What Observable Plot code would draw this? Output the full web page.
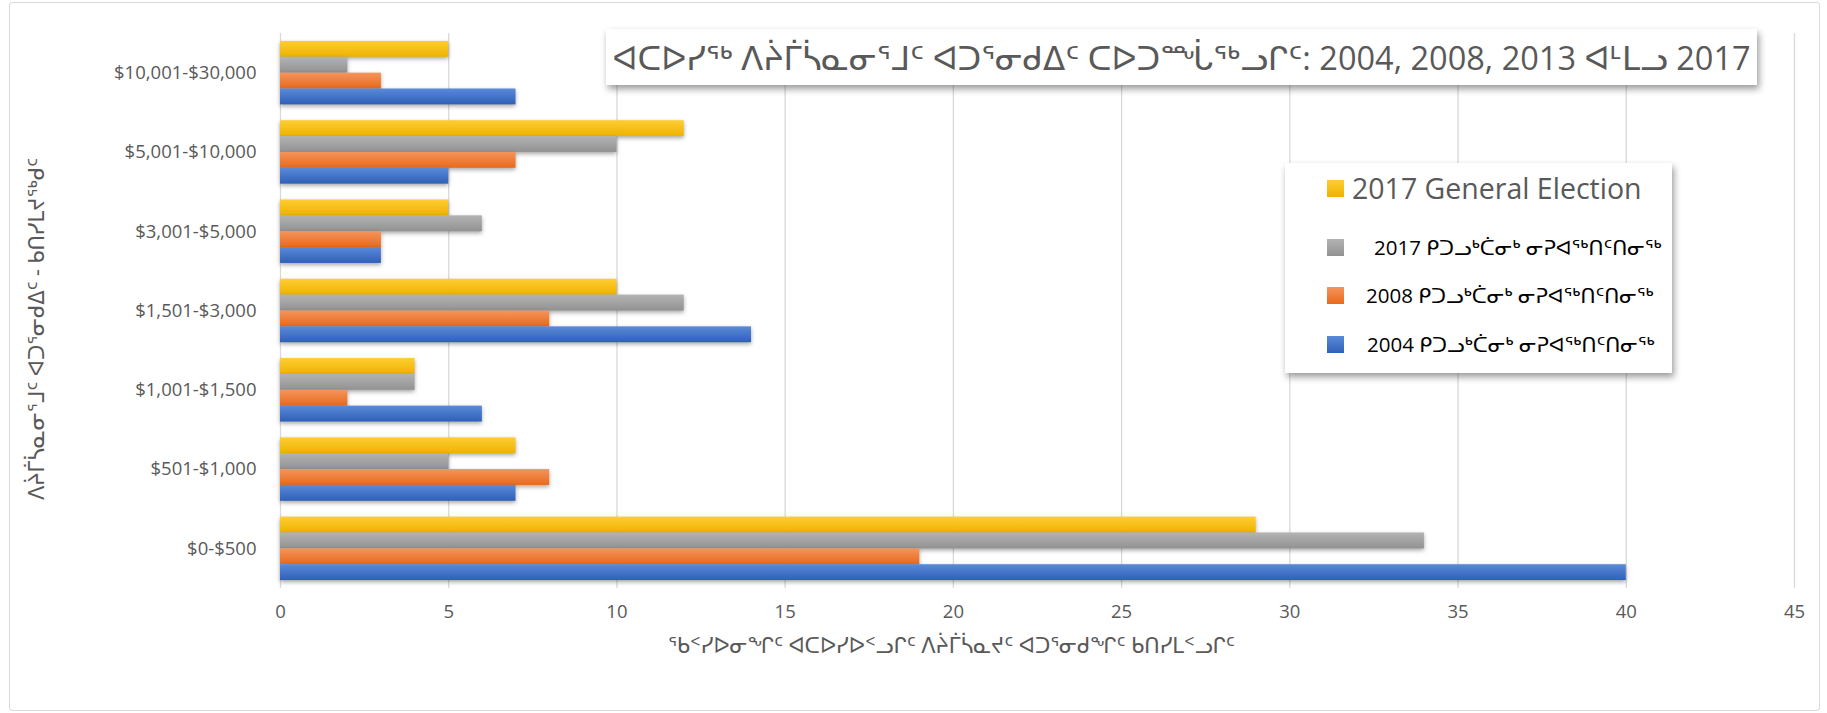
<!DOCTYPE html>
<html>
<head>
<meta charset="utf-8">
<script src="https://cdn.jsdelivr.net/npm/d3@7"></script>
<script src="https://cdn.jsdelivr.net/npm/@observablehq/plot@0.6"></script>
<style>
  body { margin: 0; background: #fff; }
  #wrap { position: relative; width: 1827px; height: 713px; font-family: "Open Sans", "DejaVu Sans", sans-serif; overflow: hidden; }
  #frame { position: absolute; left: 9px; top: 2px; width: 1809px; height: 707px; border: 1px solid #d9d9d9; border-radius: 3px; pointer-events: none; }
  #title { position: absolute; left: 606px; top: 29px; width: 1151px; height: 56px; background: #fff;
           box-shadow: 2px 4px 7px rgba(0,0,0,0.4); display: flex; align-items: center; justify-content: center;
           font-size: 32.5px; color: #595959; white-space: nowrap; }
  #legend { position: absolute; left: 1285px; top: 163px; width: 387px; height: 210px; background: #fff;
            box-shadow: 2px 4px 7px rgba(0,0,0,0.4); }
  .item { position: absolute; display: flex; align-items: center; white-space: nowrap; }
  .sw { display: inline-block; width: 17px; height: 17px; margin-right: 8px; }
  svg { display: block; }
</style>
</head>
<body>
<div id="wrap">
  <div id="chart"></div>
  <div id="title"></div>
  <div id="legend"></div>
  <div id="frame"></div>
</div>
<script>
// ---- data ----
const categories = ["$10,001-$30,000", "$5,001-$10,000", "$3,001-$5,000", "$1,501-$3,000", "$1,001-$1,500", "$501-$1,000", "$0-$500"];
const seriesNames = [
  "2017 General Election",
  "2017 ᑭᑐᓗᒃᑖᓂᒃ ᓂᕈᐊᖅᑎᑦᑎᓂᖅ",
  "2008 ᑭᑐᓗᒃᑖᓂᒃ ᓂᕈᐊᖅᑎᑦᑎᓂᖅ",
  "2004 ᑭᑐᓗᒃᑖᓂᒃ ᓂᕈᐊᖅᑎᑦᑎᓂᖅ"
];
const values2017General = [5, 12, 5, 10, 4, 7, 29];
const values2017 = [2, 10, 6, 12, 4, 5, 34];
const values2008 = [3, 7, 3, 8, 2, 8, 19];
const values2004 = [7, 5, 3, 14, 6, 7, 40];
const seriesTop = ["#ffcd33", "#b3b3b3", "#f5945c", "#5a8ad8"];
const seriesBottom = ["#eeb300", "#929292", "#e86a1c", "#2f60b9"];
const xTicks = [0, 5, 10, 15, 20, 25, 30, 35, 40, 45];
const titleText = "ᐊᑕᐅᓯᖅ ᐱᔩᒦᓵᓇᓂᕐᒧᑦ ᐊᑐᕐᓂᑯᐃᑦ ᑕᐅᑐᙶᖅᓗᒋᑦ: 2004, 2008, 2013 ᐊᒻᒪᓗ 2017";
const xLabel = "ᖃᑉᓯᐅᓂᖏᑦ ᐊᑕᐅᓯᐅᑉᓗᒋᑦ ᐱᔩᒦᓵᓇᔪᑦ ᐊᑐᕐᓂᑯᖏᑦ ᑲᑎᓯᒪᑉᓗᒋᑦ";
const yLabel = "ᐱᔩᒦᓵᓇᓂᕐᒧᑦ ᐊᑐᕐᓂᑯᐃᑦ - ᑲᑎᓯᒪᔪᖅᑯᑦ";

const allValues = [values2017General, values2017, values2008, values2004];
const rows = [];
allValues.forEach((vals, s) => vals.forEach((v, c) => rows.push({series: s, category: categories[c], value: v})));

// ---- layout ----
const W = 1827, H = 713;
const mTop = 33, mBottom = 125, mLeft = 280, mRight = 33;
const plotH = H - mTop - mBottom;
const padInner = 0.2, padOuter = 0.1;
const step = plotH / (categories.length - padInner + 2 * padOuter);
const bw = step * (1 - padInner) / seriesNames.length;

const marks = [
  Plot.ruleX(xTicks, {stroke: "#d9d9d9", strokeWidth: 1.3}),
  ...seriesNames.map((name, s) => Plot.barX(rows.filter(d => d.series === s), {
    x: "value", y: "category", fill: `url(#grad${s})`,
    insetTop: s * bw, insetBottom: (seriesNames.length - 1 - s) * bw
  })),
  Plot.axisX({ticks: xTicks, tickSize: 0, tickPadding: 16, label: null, fontSize: 18.5}),
  Plot.axisY({tickSize: 0, tickPadding: 24, label: null, fontSize: 18.5}),
  Plot.text([xLabel], {frameAnchor: "bottom", dy: 64, dx: -86, fontSize: 21, fill: "#595959"}),
  Plot.text([yLabel], {frameAnchor: "left", textAnchor: "middle", rotate: -90, dx: -243, dy: 18, fontSize: 21, fill: "#595959"})
];

const chart = Plot.plot({
  width: W, height: H,
  marginTop: mTop, marginBottom: mBottom, marginLeft: mLeft, marginRight: mRight,
  style: {fontSize: "18.5px", color: "#595959", fontFamily: "'Open Sans', 'DejaVu Sans', sans-serif", background: "transparent"},
  x: {domain: [0, 45], ticks: xTicks},
  y: {domain: categories, paddingInner: padInner, paddingOuter: padOuter, round: false},
  marks
});

// gradients + shadows
const svg = d3.select(chart);
const defs = svg.insert("defs", ":first-child");
seriesNames.forEach((n, s) => {
  const g = defs.append("linearGradient").attr("id", `grad${s}`).attr("x1", 0).attr("y1", 0).attr("x2", 0).attr("y2", 1);
  g.append("stop").attr("offset", "0%").attr("stop-color", seriesTop[s]);
  g.append("stop").attr("offset", "100%").attr("stop-color", seriesBottom[s]);
});
svg.selectAll('g[aria-label="bar"]').style("filter", "drop-shadow(0px 2px 2px rgba(0,0,0,0.35))");

document.getElementById("chart").appendChild(chart);

// title
document.getElementById("title").textContent = titleText;

// legend
const legend = document.getElementById("legend");
const itemPos = [
  {top: 6, left: 42, size: 28.5, color: "#595959", textPad: 8},
  {top: 70, left: 42, size: 20.5, color: "#000", textPad: 30},
  {top: 118, left: 42, size: 20.5, color: "#000", textPad: 22},
  {top: 167, left: 42, size: 20.5, color: "#000", textPad: 23}
];
seriesNames.forEach((name, s) => {
  const p = itemPos[s];
  const it = document.createElement("div");
  it.className = "item";
  it.style.top = p.top + "px"; it.style.left = p.left + "px";
  it.style.fontSize = p.size + "px"; it.style.color = p.color;
  const sw = document.createElement("span");
  sw.className = "sw";
  sw.style.background = `linear-gradient(${seriesTop[s]}, ${seriesBottom[s]})`;
  sw.style.marginRight = p.textPad + "px";
  const tx = document.createElement("span");
  tx.textContent = name;
  it.appendChild(sw); it.appendChild(tx);
  legend.appendChild(it);
});
</script>
</body>
</html>
